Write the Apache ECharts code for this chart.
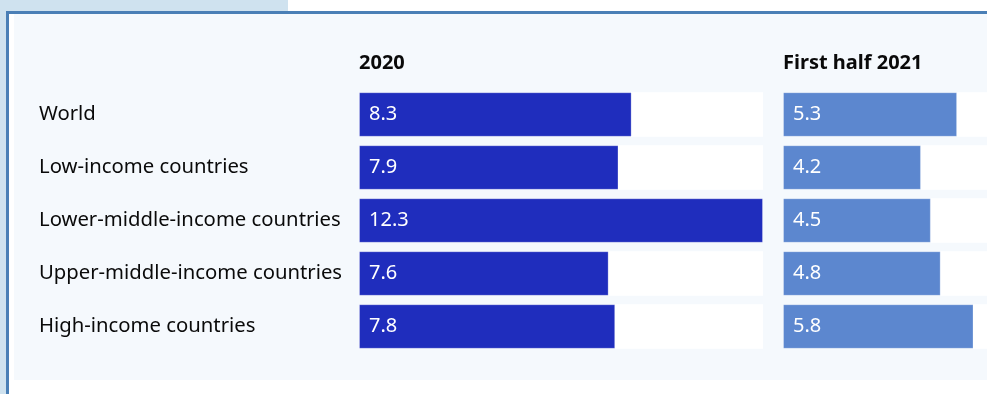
<!DOCTYPE html>
<html>
<head>
<meta charset="utf-8">
<script src="https://cdn.jsdelivr.net/npm/echarts@6/dist/echarts.min.js"></script>
<style>
  html, body { margin: 0; padding: 0; background: #ffffff; overflow: hidden; }
  /* the canvas runs past the right edge of the page; the second column is cut off there */
  #chart { width: 1200px; height: 394px; }
</style>
</head>
<body>
<div id="chart"></div>
<script>
// Rows, top to bottom
const categories = [
  'World',
  'Low-income countries',
  'Lower-middle-income countries',
  'Upper-middle-income countries',
  'High-income countries'
];
const periods = ['2020', 'First half 2021'];
const values2020 = [8.3, 7.9, 12.3, 7.6, 7.8];
const valuesH1_2021 = [5.3, 4.2, 4.5, 4.8, 5.8];

const FONT = '"Noto Sans", "Open Sans", sans-serif';
const scaleMax = 12.3;

const chart = echarts.init(document.getElementById('chart'), null, { renderer: 'canvas' });

function barSeries(idx, data, color) {
  return {
    type: 'bar',
    xAxisIndex: idx,
    yAxisIndex: idx,
    data: data,
    barWidth: 44.5,
    silent: true,
    showBackground: true,
    backgroundStyle: { color: '#ffffff' },
    itemStyle: { color: color, borderColor: 'rgba(255,255,255,0.25)', borderWidth: 1 },
    label: {
      show: true,
      position: 'insideLeft',
      distance: 10,
      color: '#ffffff',
      fontFamily: FONT,
      fontSize: 20,
      formatter: p => p.value.toFixed(1)
    }
  };
}

const option = {
  backgroundColor: '#ffffff',
  animation: false,
  graphic: [
    // light frame strip on the left and top-left
    { type: 'rect', z: -10, shape: { x: 0, y: 0, width: 288, height: 12 }, style: { fill: '#cfe2ef' } },
    { type: 'rect', z: -10, shape: { x: 0, y: 0, width: 7, height: 394 }, style: { fill: '#cfe2ef' } },
    // panel border
    { type: 'rect', z: -9, shape: { x: 7, y: 11, width: 1200, height: 3 }, style: { fill: '#4a7fb6' } },
    { type: 'rect', z: -9, shape: { x: 6, y: 11, width: 3, height: 400 }, style: { fill: '#4a7fb6' } },
    // panel fill
    { type: 'rect', z: -8, shape: { x: 14, y: 14, width: 1200, height: 366 }, style: { fill: '#f5f9fd' } },
    // column headings
    { type: 'text', left: 359, top: 53, style: { text: periods[0], font: 'bold 20px ' + FONT, fill: '#0a0a0a' } },
    { type: 'text', left: 783, top: 53, style: { text: periods[1], font: 'bold 20px ' + FONT, fill: '#0a0a0a' } }
  ],
  grid: [
    { left: 359, top: 88, width: 404, height: 265 },
    { left: 783, top: 88, width: 404, height: 265 }
  ],
  xAxis: [
    { gridIndex: 0, type: 'value', min: 0, max: scaleMax, show: false },
    { gridIndex: 1, type: 'value', min: 0, max: scaleMax, show: false }
  ],
  yAxis: [
    {
      gridIndex: 0, type: 'category', data: categories, inverse: true,
      axisLine: { show: false }, axisTick: { show: false }, splitLine: { show: false },
      axisLabel: { align: 'left', margin: 320, color: '#0a0a0a', fontFamily: FONT, fontSize: 20.3 }
    },
    {
      gridIndex: 1, type: 'category', data: categories, inverse: true, show: false
    }
  ],
  series: [
    barSeries(0, values2020, '#1f2dbd'),
    barSeries(1, valuesH1_2021, '#5c87cf')
  ]
};

chart.setOption(option);
</script>
</body>
</html>
